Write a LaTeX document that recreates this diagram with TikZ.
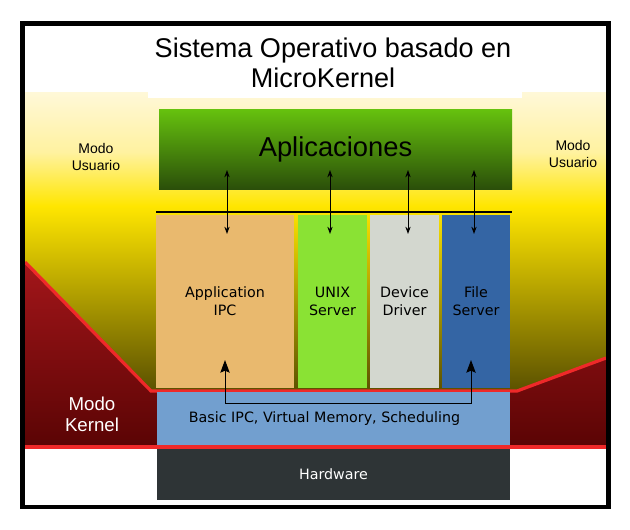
\documentclass[tikz,border=0pt]{standalone}
\usepackage{fontspec}
\newfontfamily\arialfont{Liberation Sans}
\newfontfamily\verafont{DejaVu Sans}
\usetikzlibrary{arrows.meta, calc}

\definecolor{usrcream}{HTML}{FFF8D8}
\definecolor{usrpale}{HTML}{FFF2A0}
\definecolor{usrbright}{HTML}{FFE600}
\definecolor{usrolive}{HTML}{5A5000}
\definecolor{krntop}{HTML}{A3161A}
\definecolor{krnbot}{HTML}{5A0404}
\definecolor{krnline}{HTML}{EF2929}
\definecolor{apptop}{HTML}{66C20E}
\definecolor{appbot}{HTML}{2B4F0A}
\definecolor{ipccol}{HTML}{E9B96E}
\definecolor{unixcol}{HTML}{8AE234}
\definecolor{devcol}{HTML}{D3D7CF}
\definecolor{filecol}{HTML}{3465A4}
\definecolor{basecol}{HTML}{729FCF}
\definecolor{hwcol}{HTML}{2E3436}

\pgfdeclareverticalshading{usrshade}{100bp}{color(0bp)=(usrolive); color(25bp)=(usrolive); color(56bp)=(usrbright); color(65bp)=(usrpale); color(75bp)=(usrcream); color(100bp)=(usrcream)}

\begin{document}
\begin{tikzpicture}[
    x=0.75pt, y=-0.75pt,
    layer/.style = {inner sep=0pt, outer sep=0pt, align=center, font=\verafont\fontsize{10.7}{13.5}\selectfont},
    colbox/.style = {layer, minimum height=129.75pt},
    modo/.style = {align=center, font=\arialfont\fontsize{10.5}{12.75}\selectfont},
    arrow/.style = {line width=0.75pt, {Stealth[length=5.5pt,width=4pt]}-{Stealth[length=5.5pt,width=4pt]}},
    ipcarrow/.style = {line width=0.75pt, {Stealth[length=9.5pt,width=7pt,inset=1.5pt]}-{Stealth[length=9.5pt,width=7pt,inset=1.5pt]}},
    redline/.style = {draw=krnline, line width=2.4pt}
  ]
  \useasboundingbox[fill=white] (0,0) rectangle (630,529);

  % background: user mode and kernel mode
  \shade[shading=usrshade] (25,92) rectangle (606,392);
  \fill[white] (148,92) rectangle (522,98);
  \shade[top color=krntop, bottom color=krnbot] (25,262) -- (151,391) -- (517,391) -- (606,358) -- (606,447) -- (25,447) -- cycle;
  \draw[redline] (25,262) -- (151,391) -- (517,391) -- (606,358);
  \draw[redline, line width=3pt] (25,447) -- (606,447);

  % title
  \node[font=\arialfont\fontsize{20.3}{22.5}\selectfont, align=center] (title) at (333,63) {Sistema Operativo basado en\\MicroKernel\hspace*{15pt}};

  % Nodes
  \node[layer, minimum width=264.75pt, minimum height=60pt, top color=apptop, bottom color=appbot,
        font=\arialfont\fontsize{20.5}{22}\selectfont] (apps) at (335.5,149) {Aplicaciones};
  \draw[line width=2.2pt] (156,212) -- (512,212);

  \node[colbox, fill=ipccol, minimum width=103.5pt] (appipc) at (225,301.5) {Application\\IPC};
  \node[colbox, fill=unixcol, minimum width=51.75pt] (unix) at (332.5,301.5) {UNIX\\Server};
  \node[colbox, fill=devcol, minimum width=51.75pt] (devdrv) at (404.5,301.5) {Device\\Driver};
  \node[colbox, fill=filecol, minimum width=51pt] (filesrv) at (476,301.5) {File\\Server};

  \node[layer, fill=basecol, minimum width=264.75pt, minimum height=39.75pt] (kernel) at (333.5,418.5) {Basic IPC, Virtual Memory, Scheduling\hspace*{13.5pt}};
  \node[layer, fill=hwcol, text=white, minimum width=264.75pt, minimum height=38.25pt] (hw) at (333.5,474.5) {Hardware};

  \node[modo] (usrL) at (96,157) {Modo\\Usuario};
  \node[modo] (usrR) at (573,154) {Modo\\Usuario};
  \node[align=center, text=white, font=\arialfont\fontsize{14}{15.75}\selectfont] (krnL) at (92,414) {Modo\\Kernel};

  % apps <-> servers
  \foreach \c/\dx in {appipc/2, unix/-2.5, devdrv/3.5, filesrv/-2}
    \draw[arrow] ($(\c.north |- apps.south)+(\dx,-19)$) -- ($(\c.north)+(\dx,19)$);

  % IPC through the kernel
  \coordinate (ipcL) at ($(appipc.south)+(0,-28)$);
  \coordinate (ipcR) at ($(filesrv.south)+(-5,-28)$);
  \draw[ipcarrow] (ipcL) -- ($(ipcL |- kernel.north)+(0,11)$) -| (ipcR);

  % frame
  \draw[line width=3.4pt] (22.5,23.5) rectangle (608.5,507);
\end{tikzpicture}
\end{document}
